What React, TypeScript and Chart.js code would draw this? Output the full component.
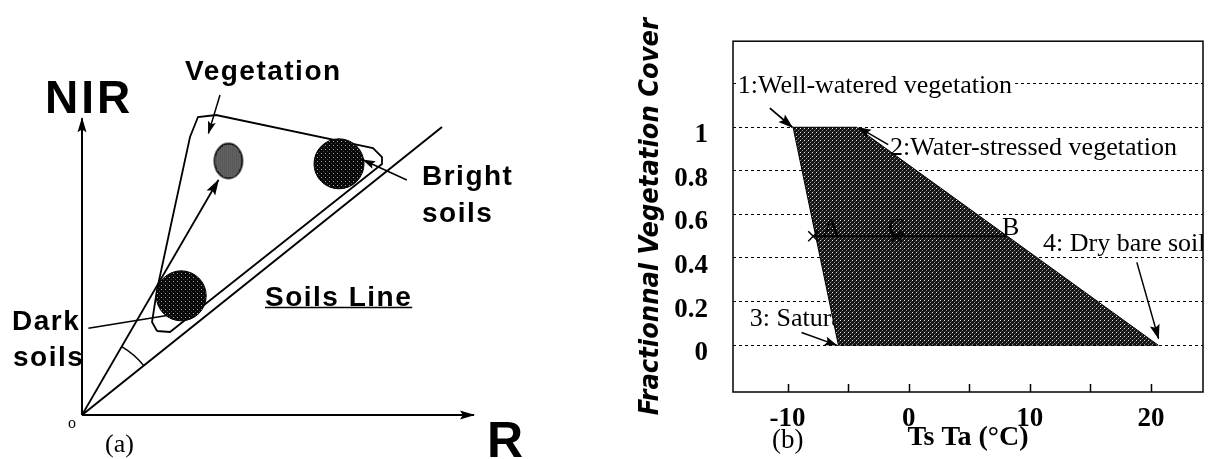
import React, { useEffect, useRef } from 'react';
import { Chart, registerables } from 'chart.js';

Chart.register(...registerables);

const SANS = '"Liberation Sans", Arial, Helvetica, sans-serif';
const SERIF = '"Liberation Serif", "Times New Roman", serif';
const COND = '"DejaVu Sans Condensed", "DejaVu Sans", sans-serif';

// ---------------- Panel (a): R / NIR reflectance space ----------------
const A_R_AXIS = [{ x: 0, y: 0 }, { x: 98, y: 0 }];
const A_NIR_AXIS = [{ x: 0, y: 0 }, { x: 0, y: 74.2 }];
const A_SOIL_LINE = [{ x: 0, y: 0 }, { x: 90, y: 72 }];
const A_VEG_LINE = [{ x: 0, y: 0 }, { x: 34.1, y: 58.75 }];
const A_VEG_DOMAIN = [
  { x: 18.75, y: 21 }, { x: 17.5, y: 23.25 }, { x: 18.75, y: 31.25 }, { x: 22.5, y: 48.75 },
  { x: 27, y: 69.5 }, { x: 29, y: 74.5 }, { x: 33.5, y: 75 }, { x: 72.75, y: 66.75 },
  { x: 75, y: 64.5 }, { x: 75, y: 62.75 }, { x: 22, y: 20.75 }, { x: 18.75, y: 21 },
];
const A_VEG_POINTER = [{ x: 34.5, y: 80 }, { x: 31.6, y: 70.4 }];
const A_BRIGHT_POINTER = [{ x: 81.2, y: 58.75 }, { x: 70.3, y: 63.75 }];
const A_DARK_POINTER = [{ x: 1.6, y: 21.7 }, { x: 22, y: 25 }];
const A_SOIL_CLUSTERS = [{ x: 64.25, y: 62.8 }, { x: 24.8, y: 29.8 }];
const A_VEG_CLUSTER = [{ x: 36.6, y: 63.5 }];
const A_ANGLE_RADIUS = 19.75;

// ---------------- Panel (b): Ts-Ta vs fractional vegetation cover ----------------
const B_TRAPEZOID = [
  { x: -9.54, y: 1 }, { x: -4.3, y: 1 }, { x: 20.6, y: 0 }, { x: -5.8, y: 0 }, { x: -9.54, y: 1 },
];
const B_ACB_LINE = [{ x: -7.88, y: 0.5 }, { x: 8.1, y: 0.5 }];
const B_MARKERS = [{ x: -7.88, y: 0.5 }, { x: -1.0, y: 0.5 }];
const B_ARROW_1 = [{ x: -11.46, y: 1.088 }, { x: -9.6, y: 1.0 }];
const B_ARROW_2 = [{ x: -1.69, y: 0.92 }, { x: -4.1, y: 0.998 }];
const B_ARROW_3 = [{ x: -8.84, y: 0.058 }, { x: -5.95, y: 0.0 }];
const B_ARROW_4 = [{ x: 18.84, y: 0.38 }, { x: 20.63, y: 0.03 }];
const B_X_TICKS = [-10, -5, 0, 5, 10, 15, 20];
const B_X_LABELS = ['-10', '', '0', '', '10', '', '20'];
const B_Y_TICKS = [0, 0.2, 0.4, 0.6, 0.8, 1, 1.2];
const B_Y_LABELS = ['0', '0.2', '0.4', '0.6', '0.8', '1', ''];

function makePattern(size: number, base: string, dots: Array<[number, number, string]>) {
  const c = document.createElement('canvas');
  c.width = size;
  c.height = size;
  const g = c.getContext('2d')!;
  g.fillStyle = base;
  g.fillRect(0, 0, size, size);
  for (const [x, y, col] of dots) {
    g.fillStyle = col;
    g.fillRect(x, y, 1, 1);
  }
  return g.createPattern(c, 'repeat')!;
}

function makeEllipse(rx: number, ry: number, fill: any) {
  const c = document.createElement('canvas');
  c.width = Math.ceil(rx * 2 + 4);
  c.height = Math.ceil(ry * 2 + 4);
  const g = c.getContext('2d')!;
  g.beginPath();
  g.ellipse(c.width / 2, c.height / 2, rx, ry, 0, 0, Math.PI * 2);
  g.fillStyle = fill;
  g.fill();
  g.lineWidth = 1.5;
  g.strokeStyle = '#000';
  g.stroke();
  return c;
}

function arrowHead(ctx: CanvasRenderingContext2D, x1: number, y1: number, x2: number, y2: number, len: number, half: number) {
  const a = Math.atan2(y2 - y1, x2 - x1);
  ctx.save();
  ctx.translate(x2, y2);
  ctx.rotate(a);
  ctx.beginPath();
  ctx.moveTo(1, 0);
  ctx.lineTo(-len, half);
  ctx.lineTo(-len * 0.8, 0);
  ctx.lineTo(-len, -half);
  ctx.closePath();
  ctx.fillStyle = '#000';
  ctx.fill();
  ctx.restore();
}

const arrowPlugin = {
  id: 'arrowHeads',
  afterDatasetsDraw(chart: any) {
    const ctx = chart.ctx;
    chart.data.datasets.forEach((ds: any, i: number) => {
      if (!ds.arrowHead) return;
      const pts = chart.getDatasetMeta(i).data;
      if (pts.length < 2) return;
      const a = pts[pts.length - 2];
      const b = pts[pts.length - 1];
      arrowHead(ctx, a.x, a.y, b.x, b.y, ds.arrowHead[0], ds.arrowHead[1]);
    });
  },
};

type Note = { t: string; x: number; y: number; f: string; ls?: number; align?: CanvasTextAlign; underline?: boolean; bg?: boolean; clip?: boolean };

function drawNote(chart: any, n: Note) {
  const ctx: CanvasRenderingContext2D = chart.ctx;
  const px = chart.scales.x.getPixelForValue(n.x);
  const py = chart.scales.y.getPixelForValue(n.y);
  ctx.save();
  if (n.clip) {
    const ca = chart.chartArea;
    ctx.beginPath();
    ctx.rect(ca.left, ca.top, ca.right - ca.left, ca.bottom - ca.top);
    ctx.clip();
  }
  ctx.font = n.f;
  (ctx as any).letterSpacing = (n.ls || 0) + 'px';
  ctx.textAlign = n.align || 'left';
  ctx.textBaseline = 'alphabetic';
  const w = ctx.measureText(n.t).width;
  if (n.bg) {
    ctx.fillStyle = '#fff';
    ctx.fillRect(px - 1, py - 18, w + 4, 22);
  }
  ctx.fillStyle = '#000';
  ctx.fillText(n.t, px, py);
  if (n.underline) {
    ctx.strokeStyle = '#000';
    ctx.lineWidth = 1.5;
    ctx.beginPath();
    ctx.moveTo(px, py + 1.5);
    ctx.lineTo(px + w, py + 1.5);
    ctx.stroke();
  }
  ctx.restore();
}

const line = (data: any[], width: number, extra: any = {}) => ({
  data,
  showLine: true,
  borderColor: '#000',
  borderWidth: width,
  pointRadius: 0,
  fill: false,
  clip: false,
  ...extra,
});

export default function App() {
  const refA = useRef<HTMLCanvasElement>(null);
  const refB = useRef<HTMLCanvasElement>(null);

  useEffect(() => {
    const soilPattern = makePattern(4, '#080808', [[1, 1, '#aaaaaa'], [3, 3, '#444444']]);
    const vegPattern = makePattern(2, '#ffffff', [[0, 0, '#000'], [1, 1, '#000'], [0, 1, '#777777']]);
    const darkPattern = makePattern(4, '#141414', [[0, 0, '#e8e8e8'], [2, 2, '#909090'], [1, 3, '#444444'], [3, 1, '#444444']]);
    const vegEllipse = makeEllipse(14, 17.5, vegPattern);

    const notesA: Note[] = [
      { t: 'NIR', x: -9.25, y: 75.5, f: `bold 46px ${SANS}`, ls: 3 },
      { t: 'Vegetation', x: 25.75, y: 83.75, f: `bold 28px ${SANS}`, ls: 1.5 },
      { t: 'Bright', x: 85, y: 57.5, f: `bold 28px ${SANS}`, ls: 1.5 },
      { t: 'soils', x: 85, y: 48.25, f: `bold 28px ${SANS}`, ls: 1.5 },
      { t: 'Soils Line', x: 45.75, y: 27.25, f: `bold 28px ${SANS}`, ls: 1.5, underline: true },
      { t: 'Dark', x: -17.5, y: 21.25, f: `bold 28px ${SANS}`, ls: 1.5 },
      { t: 'soils', x: -17.25, y: 12.25, f: `bold 28px ${SANS}`, ls: 1.5 },
      { t: 'o', x: -2.5, y: -3.25, f: `16px ${SERIF}`, align: 'center' },
      { t: '(a)', x: 5.75, y: -9.25, f: `26px ${SERIF}` },
      { t: 'R', x: 101.25, y: -10.5, f: `bold 50px ${SANS}` },
    ];

    const panelAPlugin = {
      id: 'panelA',
      afterDatasetsDraw(chart: any) {
        const ctx: CanvasRenderingContext2D = chart.ctx;
        const xs = chart.scales.x;
        const ys = chart.scales.y;
        const cx = xs.getPixelForValue(0);
        const cy = ys.getPixelForValue(0);
        const r = xs.getPixelForValue(A_ANGLE_RADIUS) - cx;
        const vEnd = A_VEG_LINE[A_VEG_LINE.length - 1];
        const sEnd = A_SOIL_LINE[A_SOIL_LINE.length - 1];
        const a1 = Math.atan2(ys.getPixelForValue(vEnd.y) - cy, xs.getPixelForValue(vEnd.x) - cx);
        const a2 = Math.atan2(ys.getPixelForValue(sEnd.y) - cy, xs.getPixelForValue(sEnd.x) - cx);
        ctx.save();
        ctx.strokeStyle = '#000';
        ctx.lineWidth = 1.5;
        ctx.beginPath();
        ctx.arc(cx, cy, r, a1, a2, false);
        ctx.stroke();
        ctx.restore();
        notesA.forEach((n) => drawNote(chart, n));
      },
    };

    const chartA = new Chart(refA.current!, {
      type: 'line',
      data: {
        datasets: [
          { data: A_VEG_CLUSTER, showLine: false, pointStyle: vegEllipse as any, pointRadius: 15, clip: false } as any,
          {
            data: A_SOIL_CLUSTERS, showLine: false, pointStyle: 'circle', pointRadius: 25,
            pointBackgroundColor: soilPattern, pointBorderColor: '#000', pointBorderWidth: 1, clip: false,
          } as any,
          line(A_VEG_POINTER, 1.5, { arrowHead: [12, 4] }),
          line(A_BRIGHT_POINTER, 1.5, { arrowHead: [12, 4] }),
          line(A_DARK_POINTER, 1.5),
          line(A_VEG_DOMAIN, 1.8),
          line(A_VEG_LINE, 1.8, { arrowHead: [15, 5] }),
          line(A_SOIL_LINE, 2),
          line(A_NIR_AXIS, 2, { arrowHead: [14, 4.5] }),
          line(A_R_AXIS, 2, { arrowHead: [14, 4.5] }),
        ] as any,
      },
      options: {
        responsive: false,
        animation: false,
        events: [],
        layout: { padding: { left: 82, right: 118, top: 115, bottom: 44 } },
        scales: {
          x: { type: 'linear', min: 0, max: 100, display: false },
          y: { type: 'linear', min: 0, max: 75, display: false },
        },
        plugins: { legend: { display: false }, tooltip: { enabled: false } },
      } as any,
      plugins: [arrowPlugin, panelAPlugin] as any,
    });

    const notesB: Note[] = [
      { t: '1:Well-watered vegetation', x: -14.11, y: 1.155, f: `26px ${SERIF}`, bg: true },
      { t: '2:Water-stressed vegetation', x: -1.54, y: 0.872, f: `26px ${SERIF}` },
      { t: '4: Dry bare soil', x: 11.1, y: 0.434, f: `26px ${SERIF}`, clip: true },
      { t: 'A', x: -7.17, y: 0.5, f: `26px ${SERIF}` },
      { t: 'C', x: -1.72, y: 0.5, f: `26px ${SERIF}` },
      { t: 'B', x: 7.71, y: 0.505, f: `26px ${SERIF}` },
    ];
    const underB: Note = { t: '3: Saturated bare soil', x: -13.12, y: 0.088, f: `26px ${SERIF}` };

    const panelBPlugin = {
      id: 'panelB',
      beforeDatasetsDraw(chart: any) {
        drawNote(chart, underB);
      },
      afterDatasetsDraw(chart: any) {
        notesB.forEach((n) => drawNote(chart, n));
      },
      afterDraw(chart: any) {
        const ctx: CanvasRenderingContext2D = chart.ctx;
        const ca = chart.chartArea;
        const xs = chart.scales.x;
        ctx.save();
        ctx.strokeStyle = '#000';
        ctx.lineWidth = 1.5;
        ctx.strokeRect(ca.left, ca.top, ca.right - ca.left, ca.bottom - ca.top);
        ctx.lineWidth = 1.5;
        ctx.beginPath();
        B_X_TICKS.forEach((v) => {
          const x = Math.round(xs.getPixelForValue(v)) + 0.5;
          ctx.moveTo(x, ca.bottom);
          ctx.lineTo(x, ca.bottom - 8);
        });
        ctx.stroke();
        ctx.fillStyle = '#000';
        ctx.font = `27px ${SERIF}`;
        ctx.textAlign = 'left';
        ctx.textBaseline = 'alphabetic';
        ctx.fillText('(b)', 172, 448);
        ctx.restore();
      },
    };

    const chartB = new Chart(refB.current!, {
      type: 'line',
      data: {
        datasets: [
          {
            data: B_MARKERS, showLine: false, pointStyle: 'crossRot', pointRadius: 7,
            pointBorderColor: '#000', pointBorderWidth: 1.5, clip: false,
          } as any,
          line(B_ACB_LINE, 1.5),
          line(B_ARROW_1, 1.8, { arrowHead: [14, 5] }),
          line(B_ARROW_2, 1.5, { arrowHead: [12, 4.5] }),
          line(B_ARROW_3, 1.5, { arrowHead: [12, 4.5] }),
          line(B_ARROW_4, 1.5, { arrowHead: [14, 5] }),
          {
            data: B_TRAPEZOID, showLine: true, fill: 'shape', backgroundColor: darkPattern,
            borderColor: '#000', borderWidth: 1, pointRadius: 0, tension: 0,
          } as any,
        ] as any,
      },
      options: {
        responsive: false,
        animation: false,
        events: [],
        layout: { padding: { left: 0, right: 12, top: 28, bottom: 0 } },
        scales: {
          x: {
            type: 'linear',
            min: -14.5,
            max: 24.3,
            afterBuildTicks: (s: any) => { s.ticks = B_X_TICKS.map((v) => ({ value: v })); },
            afterFit: (s: any) => { s.height = 67; },
            grid: { display: false, drawTicks: false },
            border: { display: false },
            ticks: {
              color: '#000', autoSkip: false, maxRotation: 0, padding: 11,
              font: { family: SERIF, size: 27, weight: 'bold' },
              callback: (_v: any, i: number) => B_X_LABELS[i],
            },
            title: {
              display: true, text: 'Ts Ta (°C)', color: '#000',
              font: { family: SERIF, size: 28, weight: 'bold' },
              padding: { top: 0, bottom: 4 },
            },
          },
          y: {
            type: 'linear',
            min: -0.215,
            max: 1.395,
            afterBuildTicks: (s: any) => { s.ticks = B_Y_TICKS.map((v) => ({ value: v })); },
            afterFit: (s: any) => { s.width = 133; },
            grid: { color: '#000', lineWidth: 1, drawTicks: false },
            border: { display: false, dash: [3, 3] },
            ticks: {
              color: '#000', autoSkip: false, padding: 25, labelOffset: 8,
              font: { family: SERIF, size: 27, weight: 'bold' },
              callback: (_v: any, i: number) => B_Y_LABELS[i],
            },
            title: {
              display: true, text: 'Fractionnal Vegetation Cover', color: '#000',
              font: { family: COND, size: 27, weight: 'bold', style: 'italic' },
              padding: { top: 35, bottom: 0 },
            },
          },
        },
        plugins: { legend: { display: false }, tooltip: { enabled: false } },
      } as any,
      plugins: [arrowPlugin, panelBPlugin] as any,
    });

    return () => {
      chartA.destroy();
      chartB.destroy();
    };
  }, []);

  return (
    <div style={{ position: 'fixed', left: 0, top: 0, width: 1215, height: 459, background: '#fff' }}>
      <div style={{ position: 'absolute', left: 0, top: 0, width: 600, height: 459 }}>
        <canvas ref={refA} width={600} height={459} />
      </div>
      <div style={{ position: 'absolute', left: 600, top: 0, width: 615, height: 459 }}>
        <canvas ref={refB} width={615} height={459} />
      </div>
    </div>
  );
}
